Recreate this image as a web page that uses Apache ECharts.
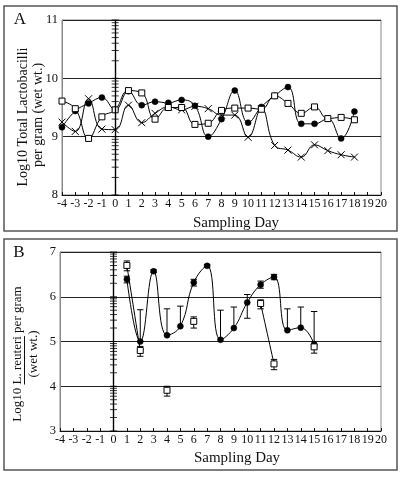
<!DOCTYPE html>
<html>
<head>
<meta charset="utf-8">
<script src="https://cdn.jsdelivr.net/npm/echarts@6/dist/echarts.min.js"></script>
<style>
html,body{margin:0;padding:0;background:#fff;}
#c{width:400px;height:478px;}
</style>
</head>
<body>
<div id="c"></div>
<script>
// ---- Panel A data (Log10 total lactobacilli) ----
const daysA = [-4,-3,-2,-1,0,1,2,3,4,5,6,7,8,9,10,11,12,13,14,15,16,17,18];
const aCircle = [9.16,9.44,9.57,9.67,9.46,9.78,9.54,9.60,9.58,9.63,9.53,9.00,9.30,9.79,9.24,9.51,9.70,9.85,9.22,9.22,9.31,8.97,9.43];
const aSquare = [9.61,9.48,8.97,9.34,9.46,9.79,9.75,9.30,9.50,9.50,9.21,9.23,9.45,9.49,9.49,9.47,9.70,9.57,9.40,9.51,9.31,9.33,9.29];
const aCross  = [9.25,9.09,9.65,9.13,9.12,9.54,9.24,9.40,9.51,9.46,9.52,9.48,9.37,9.37,8.99,9.48,8.85,8.77,8.65,8.86,8.76,8.69,8.65];

// ---- Panel B data (Log10 L. reuteri) ----
const daysB = [1,2,3,4,5,6,7,8,9,10,11,12,13,14,15];
const bCircle     = [6.39,5.00,6.57,5.14,5.34,6.32,6.69,5.04,5.30,5.87,6.27,6.44,5.25,5.31,4.94];
const bCircleLow  = [6.31,5.00,6.54,5.14,5.34,6.24,6.66,5.04,5.30,5.52,6.19,6.38,5.25,5.31,4.94];
const bCircleHigh = [6.46,5.71,6.60,5.73,5.79,6.39,6.72,5.70,5.77,6.05,6.35,6.50,5.73,5.77,5.67];
const bSquare     = [6.70,4.80,null,3.91,null,5.45,null,null,null,null,5.85,4.50,null,null,4.88];
const bSquareLow  = [6.58,4.67,null,3.78,null,5.30,null,null,null,null,5.73,4.37,null,null,4.74];
const bSquareHigh = [6.80,4.89,null,4.00,null,5.55,null,null,null,null,5.93,4.60,null,null,4.88];

// ---- axis ticks ----
const xMin = -4, xMax = 20;
const yA = {min: 8, max: 11};
const yB = {min: 3, max: 7};

const FONT = '"Liberation Serif", "Times New Roman", serif';

function pairs(xs, ys){ return xs.map((x,i)=> ys[i]==null ? [x,null] : [x, ys[i]]); }
function logTicks(min,max){
  const t=[];
  for(let n=min;n<max;n++){ for(let k=1;k<=9;k++){ t.push(n+Math.log10(k)); } }
  t.push(max);
  return t;
}
function errData(xs, v, lo, hi){
  const d=[];
  xs.forEach((x,i)=>{ if(v[i]!=null) d.push([x, lo[i], hi[i], v[i]]); });
  return d;
}
function errRender(params, api){
  const x=api.value(0), lo=api.value(1), hi=api.value(2), v=api.value(3);
  const pLo=api.coord([x,lo]), pHi=api.coord([x,hi]);
  const st={stroke:'#000', lineWidth:1};
  const ch=[{type:'line', shape:{x1:pLo[0],y1:pLo[1],x2:pHi[0],y2:pHi[1]}, style:st}];
  const w=3.2;
  if(hi>v) ch.push({type:'line', shape:{x1:pHi[0]-w,y1:pHi[1],x2:pHi[0]+w,y2:pHi[1]}, style:st});
  if(lo<v) ch.push({type:'line', shape:{x1:pLo[0]-w,y1:pLo[1],x2:pLo[0]+w,y2:pLo[1]}, style:st});
  return {type:'group', children:ch};
}

const chart = echarts.init(document.getElementById('c'), null, {renderer:'canvas'});

function xAxisCfg(gi){
  return {
    type:'value', gridIndex:gi, min:xMin, max:xMax, interval:1,
    axisLine:{onZero:false, lineStyle:{color:'#111', width:1}},
    axisTick:{show:true, inside:true, length:3, lineStyle:{color:'#111'}},
    axisLabel:{color:'#111', fontFamily:FONT, fontSize:12, margin:3},
    splitLine:{show:false}
  };
}
function yAxisCfg(gi, r){
  return {
    type:'value', gridIndex:gi, min:r.min, max:r.max, interval:1,
    axisLine:{show:true, onZero:false, lineStyle:{color:'#888', width:1}},
    axisTick:{show:false},
    axisLabel:{color:'#111', fontFamily:FONT, fontSize:12.5, margin:4},
    splitLine:{show:true, lineStyle:{color:'#222', width:1.2}}
  };
}

const crossPath = 'path://M0,0L10,10M10,0L0,10';
const lineBase = {type:'line', smooth:0.45, lineStyle:{color:'#000', width:1}, symbolSize:6};

// measure for underline
const mc = document.createElement('canvas').getContext('2d');
const bFont = 13;
mc.font = bFont + 'px ' + FONT;
const bL1 = 'Log10 L. reuteri per gram';
const wAll = mc.measureText(bL1).width;
const wPre = mc.measureText('Log10 ').width;
const wLR = mc.measureText('L. reuteri').width;
const bCx = 18, bCy = 354;
const ulY1 = bCy + wAll/2 - wPre;      // bottom end (start of word)
const ulY2 = ulY1 - wLR;               // top end

const option = {
  backgroundColor:'#fff',
  animation:false,
  grid:[
    {left:62, right:19, top:20, height:175, show:true, borderColor:'#888', borderWidth:1, backgroundColor:'transparent', outerBoundsMode:'none'},
    {left:60, right:19, top:252, height:179, show:true, borderColor:'#888', borderWidth:1, backgroundColor:'transparent', outerBoundsMode:'none'}
  ],
  xAxis:[xAxisCfg(0), xAxisCfg(1)],
  yAxis:[yAxisCfg(0,yA), yAxisCfg(1,yB)],
  series:[
    // x=0 axis with log ticks, panel A
    {type:'scatter', xAxisIndex:0, yAxisIndex:0, silent:true, symbol:'rect', symbolSize:[7,1],
     itemStyle:{color:'#000'}, data:logTicks(yA.min,yA.max).map(v=>[0,v]), z:1,
     markLine:{silent:true, symbol:'none', label:{show:false}, lineStyle:{color:'#000', width:1.4, type:'solid'}, data:[{xAxis:0}]}},
    // x=0 axis with log ticks, panel B
    {type:'scatter', xAxisIndex:1, yAxisIndex:1, silent:true, symbol:'rect', symbolSize:[7,1],
     itemStyle:{color:'#000'}, data:logTicks(yB.min,yB.max).map(v=>[0,v]), z:1,
     markLine:{silent:true, symbol:'none', label:{show:false}, lineStyle:{color:'#000', width:1.4, type:'solid'}, data:[{xAxis:0}]}},

    // Panel A series
    Object.assign({}, lineBase, {name:'cross', xAxisIndex:0, yAxisIndex:0, data:pairs(daysA,aCross),
      symbol:crossPath, symbolSize:7, itemStyle:{color:'#000', borderColor:'#000', borderWidth:1}, z:3}),
    Object.assign({}, lineBase, {name:'square', xAxisIndex:0, yAxisIndex:0, data:pairs(daysA,aSquare),
      symbol:'rect', itemStyle:{color:'#fff', borderColor:'#000', borderWidth:1}, z:4}),
    Object.assign({}, lineBase, {name:'circle', xAxisIndex:0, yAxisIndex:0, data:pairs(daysA,aCircle),
      symbol:'circle', itemStyle:{color:'#000', borderColor:'#000', borderWidth:0.5}, z:3}),

    // Panel B error bars
    {type:'custom', xAxisIndex:1, yAxisIndex:1, silent:true, renderItem:errRender,
     encode:{x:0, y:[1,2]}, data:errData(daysB,bCircle,bCircleLow,bCircleHigh), z:2},
    {type:'custom', xAxisIndex:1, yAxisIndex:1, silent:true, renderItem:errRender,
     encode:{x:0, y:[1,2]}, data:errData(daysB,bSquare,bSquareLow,bSquareHigh), z:2},
    // Panel B series
    Object.assign({}, lineBase, {name:'bcircle', xAxisIndex:1, yAxisIndex:1, data:pairs(daysB,bCircle),
      symbol:'circle', itemStyle:{color:'#000', borderColor:'#000', borderWidth:0.5}, z:3}),
    Object.assign({}, lineBase, {name:'bsquare', xAxisIndex:1, yAxisIndex:1, data:pairs(daysB,bSquare),
      connectNulls:false, symbol:'rect', itemStyle:{color:'#fff', borderColor:'#000', borderWidth:1}, z:5})
  ],
  graphic:[
    {type:'rect', shape:{x:4, y:6, width:393, height:225}, style:{fill:'none', stroke:'#555', lineWidth:1.5}, silent:true},
    {type:'rect', shape:{x:4, y:239, width:393, height:231}, style:{fill:'none', stroke:'#555', lineWidth:1.5}, silent:true},
    {type:'text', x:20, y:20, style:{text:'A', font:'17px '+FONT, fill:'#111', textAlign:'center', textVerticalAlign:'middle'}},
    {type:'text', x:19, y:253, style:{text:'B', font:'17px '+FONT, fill:'#111', textAlign:'center', textVerticalAlign:'middle'}},
    {type:'text', x:23, y:117, rotation:Math.PI/2, style:{text:'Log10 Total Lactobacilli', font:'14px '+FONT, fill:'#111', textAlign:'center', textVerticalAlign:'middle'}},
    {type:'text', x:38, y:115, rotation:Math.PI/2, style:{text:'per gram (wet wt.)', font:'14px '+FONT, fill:'#111', textAlign:'center', textVerticalAlign:'middle'}},
    {type:'text', x:236, y:223, style:{text:'Sampling Day', font:'15px '+FONT, fill:'#111', textAlign:'center', textVerticalAlign:'middle'}},
    {type:'text', x:bCx, y:bCy, rotation:Math.PI/2, style:{text:bL1, font:bFont+'px '+FONT, fill:'#111', textAlign:'center', textVerticalAlign:'middle'}},
    {type:'line', shape:{x1:bCx+6.5, y1:ulY1, x2:bCx+6.5, y2:ulY2}, style:{stroke:'#111', lineWidth:1}, silent:true},
    {type:'text', x:34, y:354, rotation:Math.PI/2, style:{text:'(wet wt.)', font:bFont+'px '+FONT, fill:'#111', textAlign:'center', textVerticalAlign:'middle'}},
    {type:'text', x:237, y:458, style:{text:'Sampling Day', font:'15px '+FONT, fill:'#111', textAlign:'center', textVerticalAlign:'middle'}}
  ]
};
chart.setOption(option);
</script>
</body>
</html>
